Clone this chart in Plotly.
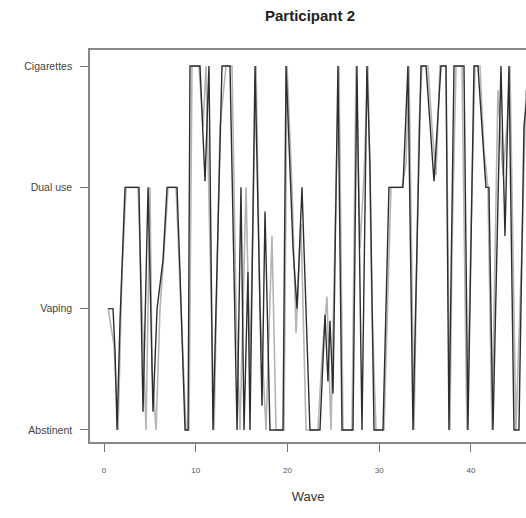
import plotly.graph_objects as go

# Status levels (category order bottom -> top)
status_labels = ["Abstinent", "Vaping", "Dual use", "Cigarettes"]
status_codes = [1, 2, 3, 4]

# Wave ticks
wave_ticks = [0, 10, 20, 30, 40]

# Participant 2 trajectory, dark line (wave, status code)
wave = [0.44, 0.98, 1.20, 1.42, 1.74, 2.29, 3.81, 4.25, 4.80, 5.01, 5.34, 5.78,
        6.43, 6.87, 7.96, 8.28, 8.83, 9.16, 9.37, 10.46, 11.01, 11.44, 11.88,
        12.86, 13.73, 14.50, 14.93, 15.26, 15.69, 15.91, 16.46, 17.22, 17.55,
        18.09, 19.51, 19.84, 20.60, 21.04, 21.58, 22.45, 23.54, 24.09, 24.41,
        24.63, 24.96, 25.50, 25.94, 27.14, 27.57, 28.12, 28.66, 28.99, 29.43,
        30.41, 31.06, 32.59, 33.13, 33.68, 34.55, 35.10, 35.97, 36.73, 37.28,
        37.60, 38.15, 39.24, 39.67, 40.33, 40.76, 41.63, 41.96, 42.40, 43.27,
        43.71, 44.14, 44.69, 45.23, 45.78, 46.43]
status = [2, 2, 1.65, 1, 1.9, 3, 3, 1.15, 3, 2.25, 1.15, 2,
          2.4, 3, 3, 2.3, 1, 1, 4, 4, 3.05, 4, 1,
          4, 4, 1, 3, 1, 2.3, 1, 4, 1.2, 2.8,
          1, 1, 4, 2.5, 2, 3, 1, 1, 1.95, 1.4,
          1.9, 1.3, 4, 1, 1, 4, 1, 4, 3.2, 1,
          1, 3, 3, 4, 1, 4, 4, 3.05, 4, 4,
          1, 4, 4, 1, 4, 4, 3, 3, 1, 4,
          2.6, 4, 1, 1, 3.5, 4]

# Second, lighter trajectory (grey strokes)
wave_grey = [0.44, 1.09, 1.53, 1.96, 2.40, 3.71, 4.14, 4.58, 5.01, 5.23, 5.67,
             6.10, 6.65, 6.98, 7.85, 8.50, 8.94, 9.26, 9.59, 10.35, 10.79,
             11.12, 11.55, 11.99, 12.64, 13.30, 13.95, 14.39, 14.82, 15.48,
             15.91, 16.57, 17.00, 17.66, 18.31, 18.75, 19.62, 19.95, 20.49,
             20.93, 21.47, 22.02, 23.32, 23.76, 24.30, 24.74, 25.29, 25.61,
             26.05, 27.03, 27.47, 27.90, 28.34, 28.77, 29.21, 29.65, 30.52,
             30.95, 31.28, 32.48, 32.92, 33.24, 33.79, 34.33, 34.66, 35.31,
             35.75, 36.19, 36.40, 36.62, 37.28, 37.71, 37.93, 38.37, 39.02,
             39.56, 40.11, 40.44, 40.98, 41.42, 41.85, 42.29, 42.94, 43.49,
             43.92, 44.25, 44.90, 45.56, 45.99]
status_grey = [2, 1.7, 1, 2.3, 3, 3, 2, 1, 3, 1.5, 1,
               2, 2.6, 3, 3, 1.8, 1, 1, 4, 4, 3.5,
               4, 2.5, 1, 3.5, 4, 4, 2, 1, 3,
               1.5, 4, 2, 1, 2.6, 1, 1, 4, 3,
               1.8, 2.7, 1, 1, 1.6, 2.1, 1, 3, 4,
               1, 1, 4, 2.5, 3.1, 4, 2, 1, 1,
               2.2, 3, 3, 3.2, 4, 1, 3.5, 4, 4,
               3.5, 3.1, 3.5, 4, 4, 1, 2.5, 4, 4,
               1, 3, 4, 4, 3.3, 3, 1, 3.8, 3.1,
               3.5, 4, 1, 2.5, 3.8]

fig = go.Figure()
fig.add_trace(go.Scatter(
    x=wave_grey, y=status_grey, mode="lines",
    line=dict(color="#b4b4b4", width=1.6),
    showlegend=False, hoverinfo="skip",
))
fig.add_trace(go.Scatter(
    x=wave, y=status, mode="lines",
    line=dict(color="#2e2e2e", width=1.4),
    showlegend=False, hoverinfo="skip",
))

fig.update_layout(
    width=526, height=518,
    margin=dict(l=90, r=0, t=50, b=76),
    paper_bgcolor="white", plot_bgcolor="white",
    font=dict(family="Liberation Sans, Arial, sans-serif", color="#333"),
    title=dict(text="<b>Participant 2</b>", x=310/526, xanchor="center",
               y=1 - 16/518, yanchor="middle",
               font=dict(size=15, color="#222")),
)

fig.update_xaxes(
    range=[-1.53, 46.0],
    tickmode="array", tickvals=wave_ticks, ticktext=[str(t) for t in wave_ticks],
    ticks="outside", ticklen=8, tickwidth=1, tickcolor="#777",
    tickfont=dict(size=8, color="#555"), ticklabelstandoff=12,
    showline=True, linecolor="#888", linewidth=1.5, mirror=True,
    showgrid=False, zeroline=False,
    title=dict(text="Wave", font=dict(size=13, color="#333"), standoff=18),
)
fig.update_yaxes(
    range=[0.901, 4.132],
    tickmode="array", tickvals=status_codes, ticktext=status_labels,
    ticks="outside", ticklen=8, tickwidth=1, tickcolor="#777",
    tickfont=dict(size=10.5, color="#444"), ticklabelstandoff=6,
    showline=True, linecolor="#888", linewidth=1.5, mirror=False,
    showgrid=False, zeroline=False,
)

fig.write_html("out.html")
